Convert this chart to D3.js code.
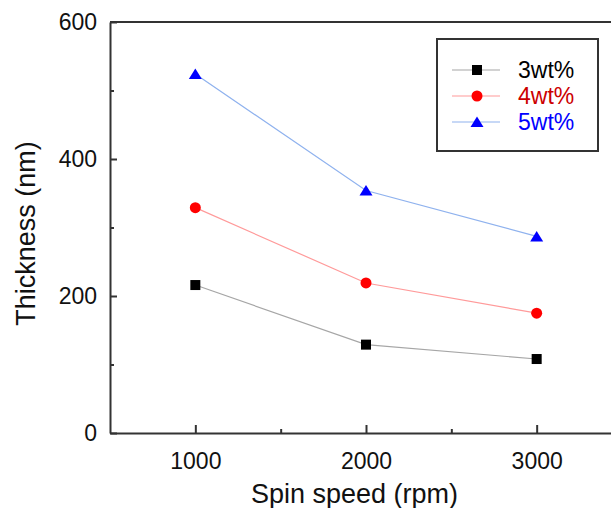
<!DOCTYPE html>
<html>
<head>
<meta charset="utf-8">
<script src="https://cdn.jsdelivr.net/npm/d3@7"></script>
<style>
  body { margin: 0; background: #fff; }
  svg { display: block; font-family: "Liberation Sans", Arial, sans-serif; }
</style>
</head>
<body>
<div id="chart"></div>
<script>
// Data
const speeds = [1000, 2000, 3000];
const seriesNames = ["3wt%", "4wt%", "5wt%"];
const thick3 = [216, 129, 108];
const thick4 = [329, 219, 175];
const thick5 = [524, 354, 287];
const xMajor = [1000, 2000, 3000];
const xMinor = [1500, 2500];
const yMajor = [0, 200, 400, 600];
const yMinor = [100, 300, 500];

// Layout
const width = 611, height = 508;
const plotLeft = 110, plotRight = 622, plotTop = 22, plotBottom = 433;
const axisColor = "#333";

const svg = d3.select("#chart")
  .append("svg")
    .attr("width", width)
    .attr("height", height);

const x = d3.scaleLinear().domain([500, 3500]).range([plotLeft, plotRight]);
const y = d3.scaleLinear().domain([0, 600]).range([plotBottom, plotTop]);

// series styling
const series = [
  { name: seriesNames[0], values: thick3, line: "#a6a6a6", mark: "#000", text: "#000", shape: "square" },
  { name: seriesNames[1], values: thick4, line: "#ff9a9a", mark: "#ff0000", text: "#cc0000", shape: "circle" },
  { name: seriesNames[2], values: thick5, line: "#8fb2ee", mark: "#0000ff", text: "#0000ff", shape: "triangle" }
];

// frame (top edge)
svg.append("line")
  .attr("x1", plotLeft).attr("x2", plotRight)
  .attr("y1", plotTop).attr("y2", plotTop)
  .attr("stroke", axisColor).attr("stroke-width", 2);

// x axis
svg.append("g")
  .attr("transform", `translate(0,${plotBottom})`)
  .call(d3.axisBottom(x).tickValues(xMajor).tickFormat(d3.format("d"))
    .tickSize(-8).tickSizeOuter(0).tickPadding(20));
svg.append("g")
  .attr("transform", `translate(0,${plotBottom})`)
  .call(d3.axisBottom(x).tickValues(xMinor).tickSize(-4).tickSizeOuter(0).tickFormat(""))
  .select(".domain").remove();

// y axis
svg.append("g")
  .attr("transform", `translate(${plotLeft},0)`)
  .call(d3.axisLeft(y).tickValues(yMajor).tickFormat(d3.format("d"))
    .tickSize(-7).tickSizeOuter(0).tickPadding(13));
svg.append("g")
  .attr("transform", `translate(${plotLeft},0)`)
  .call(d3.axisLeft(y).tickValues(yMinor).tickSize(-4).tickSizeOuter(0).tickFormat(""))
  .select(".domain").remove();

svg.selectAll(".domain").attr("stroke", axisColor).attr("stroke-width", 2);
svg.selectAll(".tick line").attr("stroke", axisColor).attr("stroke-width", 2);
svg.selectAll(".tick text")
  .attr("fill", "#111")
  .style("font-size", "23px")
  .style("font-family", "'Liberation Sans', Arial, sans-serif");

// axis titles
svg.append("text")
  .attr("x", (plotLeft + 611) / 2 - 6)
  .attr("y", 503)
  .attr("text-anchor", "middle")
  .attr("fill", "#111")
  .style("font-size", "27px")
  .text("Spin speed (rpm)");

svg.append("text")
  .attr("transform", `translate(35,${(plotTop + plotBottom) / 2 + 6}) rotate(-90)`)
  .attr("text-anchor", "middle")
  .attr("fill", "#111")
  .style("font-size", "27px")
  .text("Thickness (nm)");

// marker drawing
function drawMarker(g, shape, cx, cy, color) {
  if (shape === "square") {
    g.append("rect")
      .attr("x", cx - 5).attr("y", cy - 5)
      .attr("width", 10).attr("height", 10)
      .attr("fill", color);
  } else if (shape === "circle") {
    g.append("circle")
      .attr("cx", cx).attr("cy", cy).attr("r", 5.5)
      .attr("fill", color);
  } else {
    g.append("path")
      .attr("d", `M${cx},${cy - 5.5}L${cx + 6.5},${cy + 5}L${cx - 6.5},${cy + 5}Z`)
      .attr("fill", color);
  }
}

const line = d3.line()
  .x((d, i) => x(speeds[i]))
  .y(d => y(d));

const plot = svg.append("g");
series.forEach(s => {
  plot.append("path")
    .attr("d", line(s.values))
    .attr("fill", "none")
    .attr("stroke", s.line)
    .attr("stroke-width", 1.2);
  s.values.forEach((v, i) => drawMarker(plot, s.shape, x(speeds[i]), y(v), s.mark));
});

// legend
const legend = svg.append("g");
legend.append("rect")
  .attr("x", 437).attr("y", 39)
  .attr("width", 161).attr("height", 112)
  .attr("fill", "#fff")
  .attr("stroke", axisColor)
  .attr("stroke-width", 2);

series.forEach((s, i) => {
  const ry = 70 + i * 26;
  legend.append("line")
    .attr("x1", 452).attr("x2", 500)
    .attr("y1", ry).attr("y2", ry)
    .attr("stroke", s.line).attr("stroke-width", 1.2);
  drawMarker(legend, s.shape, 477, ry, s.mark);
  legend.append("text")
    .attr("x", 518).attr("y", ry + 8)
    .attr("fill", s.text)
    .style("font-size", "23px")
    .text(s.name);
});
</script>
</body>
</html>
